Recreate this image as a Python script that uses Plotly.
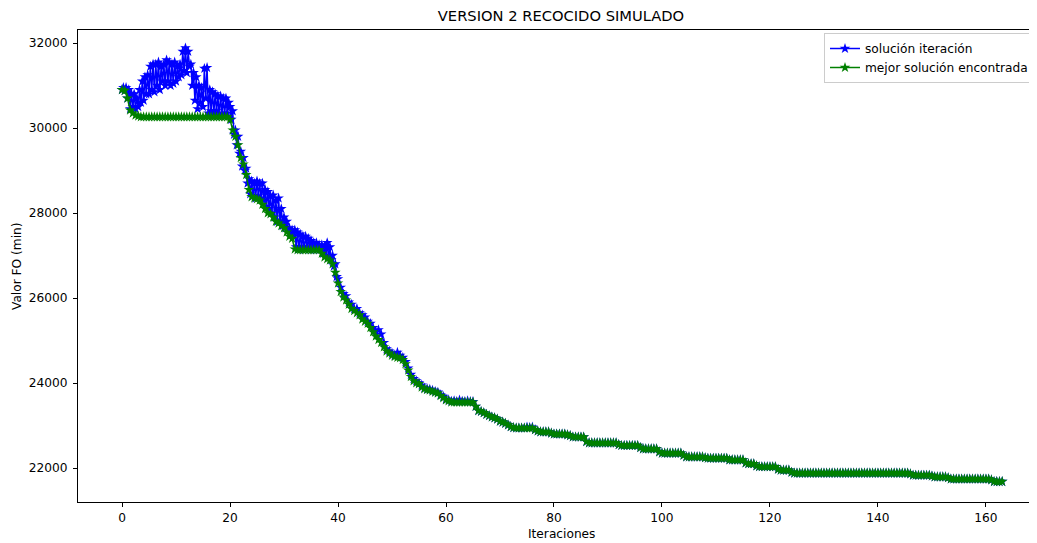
import plotly.graph_objects as go

# best solution: iterations 0 .. 163 in steps of 0.5
iteraciones = [i * 0.5 for i in range(327)]

mejor_solucion = [
    30900, 30880, 30700, 30420, 30350, 30300, 30280, 30260, 30260, 30260,  # 0
    30260, 30260, 30260, 30260, 30260, 30260, 30260, 30260, 30260, 30260,  # 5
    30260, 30260, 30260, 30260, 30260, 30260, 30260, 30260, 30260, 30260,  # 10
    30260, 30260, 30260, 30260, 30260, 30260, 30260, 30260, 30260, 30260,  # 15
    30200, 29950, 29800, 29600, 29300, 29150, 28900, 28550, 28380, 28350,  # 20
    28330, 28300, 28200, 28100, 28000, 27980, 27900, 27800, 27760, 27700,  # 25
    27650, 27550, 27450, 27400, 27150, 27130, 27130, 27130, 27130, 27130,  # 30
    27130, 27130, 27130, 27130, 27050, 26960, 26920, 26890, 26800, 26600,  # 35
    26350, 26150, 26020, 25950, 25850, 25750, 25700, 25650, 25600, 25500,  # 40
    25450, 25400, 25300, 25200, 25100, 25020, 24950, 24850, 24750, 24700,  # 45
    24650, 24620, 24600, 24590, 24550, 24450, 24300, 24150, 24050, 24000,  # 50
    23980, 23900, 23860, 23840, 23830, 23800, 23780, 23760, 23700, 23650,  # 55
    23600, 23580, 23550, 23550, 23550, 23550, 23550, 23550, 23550, 23550,  # 60
    23550, 23450, 23350, 23330, 23300, 23260, 23230, 23200, 23180, 23150,  # 65
    23100, 23080, 23050, 23010, 22970, 22950, 22940, 22940, 22940, 22940,  # 70
    22940, 22940, 22940, 22900, 22870, 22850, 22850, 22850, 22850, 22820,  # 75
    22800, 22800, 22800, 22800, 22800, 22780, 22760, 22730, 22730, 22730,  # 80
    22730, 22730, 22620, 22590, 22590, 22590, 22590, 22590, 22590, 22590,  # 85
    22590, 22590, 22590, 22590, 22550, 22530, 22530, 22530, 22530, 22530,  # 90
    22530, 22530, 22480, 22450, 22450, 22450, 22450, 22450, 22450, 22380,  # 95
    22350, 22350, 22350, 22350, 22350, 22350, 22350, 22350, 22300, 22260,  # 100
    22260, 22260, 22260, 22260, 22260, 22260, 22240, 22230, 22230, 22230,  # 105
    22230, 22230, 22230, 22230, 22230, 22190, 22190, 22190, 22190, 22190,  # 110
    22190, 22120, 22100, 22100, 22100, 22050, 22030, 22030, 22030, 22030,  # 115
    22030, 22030, 22030, 21970, 21950, 21950, 21950, 21950, 21900, 21880,  # 120
    21880, 21880, 21880, 21880, 21880, 21880, 21880, 21880, 21880, 21880,  # 125
    21880, 21880, 21880, 21880, 21880, 21880, 21880, 21880, 21880, 21880,  # 130
    21880, 21880, 21880, 21880, 21880, 21880, 21880, 21880, 21880, 21880,  # 135
    21880, 21880, 21880, 21880, 21880, 21880, 21880, 21880, 21880, 21880,  # 140
    21880, 21880, 21860, 21830, 21830, 21830, 21830, 21830, 21830, 21830,  # 145
    21810, 21790, 21790, 21790, 21790, 21790, 21770, 21740, 21740, 21740,  # 150
    21740, 21740, 21740, 21740, 21740, 21740, 21740, 21740, 21740, 21740,  # 155
    21740, 21740, 21720, 21680, 21680, 21680, 21680,                       # 160
]

# current solution: steps of 0.25 for iterations 0..39.75, then 0.5 up to 163
iteraciones_actual = [i * 0.25 for i in range(160)] + [40 + i * 0.5 for i in range(247)]

solucion_iteracion = [
    30900, 30950, 30880, 30950,  30700, 30900, 30450, 30800,  # 0, 1
    30500, 30800, 30450, 30700,  30500, 30900, 30600, 31100,  # 2, 3
    30650, 31200, 30800, 31250,  30800, 31450, 30900, 31500,  # 4, 5
    30850, 31500, 31000, 31550,  30900, 31450, 31100, 31500,  # 6, 7
    31000, 31600, 31100, 31550,  31000, 31500, 31050, 31550,  # 8, 9
    31100, 31450, 31200, 31500,  31250, 31800, 31350, 31880,  # 10, 11
    31300, 31800, 31450, 31500,  31000, 31300, 30650, 31200,  # 12, 13
    30450, 31000, 30600, 30950,  30500, 31400, 30700, 31420,  # 14, 15
    30350, 30900, 30400, 30850,  30350, 30800, 30400, 30750,  # 16, 17
    30300, 30750, 30350, 30700,  30300, 30700, 30350, 30600,  # 18, 19
    30500, 30200, 30400, 29850,  29950, 29600, 29800, 29400,  # 20, 21
    29450, 29100, 29300, 29000,  29050, 28700, 28800, 28450,  # 22, 23
    28750, 28400, 28700, 28350,  28750, 28400, 28700, 28350,  # 24, 25
    28700, 28300, 28550, 28150,  28500, 28100, 28400, 28000,  # 26, 27
    28420, 27900, 28300, 27800,  28350, 27800, 28100, 27700,  # 28, 29
    27900, 27650, 27800, 27600,  27650, 27500, 27600, 27450,  # 30, 31
    27600, 27200, 27550, 27150,  27500, 27200, 27450, 27150,  # 32, 33
    27450, 27200, 27400, 27150,  27350, 27150, 27300, 27150,  # 34, 35
    27300, 27150, 27250, 27150,  27250, 27050, 27200, 27000,  # 36, 37
    27300, 26950, 27200, 26900,  27000, 26750, 26800, 26500,  # 38, 39
    26450, 26250, 26100, 26050, 25900, 25850, 25750, 25750, 25650, 25600,  # 40
    25550, 25450, 25400, 25300, 25200, 25250, 25150, 24950, 24800, 24750,  # 45
    24700, 24650, 24720, 24650, 24600, 24500, 24350, 24200, 24100, 24050,  # 50
    24000, 23950, 23880, 23860, 23850, 23830, 23800, 23780, 23720, 23680,  # 55
    23620, 23600, 23570, 23580, 23560, 23600, 23570, 23560, 23580, 23560,  # 60
    23560, 23450, 23350, 23330, 23300, 23260, 23230, 23200, 23180, 23150,  # 65
    23100, 23080, 23050, 23010, 22970, 22950, 22940, 22940, 22940, 22940,  # 70
    22960, 22950, 22960, 22900, 22870, 22850, 22850, 22850, 22850, 22820,  # 75
    22800, 22800, 22800, 22800, 22800, 22780, 22760, 22730, 22730, 22730,  # 80
    22730, 22730, 22620, 22590, 22590, 22590, 22590, 22590, 22590, 22590,  # 85
    22590, 22590, 22590, 22590, 22550, 22530, 22530, 22530, 22530, 22530,  # 90
    22530, 22530, 22480, 22450, 22450, 22450, 22450, 22450, 22450, 22380,  # 95
    22350, 22350, 22350, 22350, 22350, 22350, 22350, 22350, 22300, 22260,  # 100
    22260, 22260, 22260, 22260, 22260, 22260, 22240, 22230, 22230, 22230,  # 105
    22230, 22230, 22230, 22230, 22230, 22190, 22190, 22190, 22190, 22190,  # 110
    22190, 22120, 22100, 22100, 22100, 22050, 22030, 22030, 22030, 22030,  # 115
    22030, 22030, 22030, 21970, 21950, 21950, 21950, 21950, 21900, 21880,  # 120
    21880, 21880, 21880, 21880, 21880, 21880, 21880, 21880, 21880, 21880,  # 125
    21880, 21880, 21880, 21880, 21880, 21880, 21880, 21880, 21880, 21880,  # 130
    21880, 21880, 21880, 21880, 21880, 21880, 21880, 21880, 21880, 21880,  # 135
    21880, 21880, 21880, 21880, 21880, 21880, 21880, 21880, 21880, 21880,  # 140
    21880, 21880, 21860, 21830, 21830, 21830, 21830, 21830, 21830, 21830,  # 145
    21810, 21790, 21790, 21790, 21790, 21790, 21770, 21740, 21740, 21740,  # 150
    21740, 21740, 21740, 21740, 21740, 21740, 21740, 21740, 21740, 21740,  # 155
    21740, 21740, 21720, 21680, 21680, 21680, 21680,                       # 160
]

x_ticks = [0, 20, 40, 60, 80, 100, 120, 140, 160]
y_ticks = [22000, 24000, 26000, 28000, 30000, 32000]

titulo = "VERSION 2 RECOCIDO SIMULADO"
nombre_x = "Iteraciones"
nombre_y = "Valor FO (min)"
serie_1 = "solución iteración"
serie_2 = "mejor solución encontrada"

FONT = "DejaVu Sans"
W, H = 1037, 543
L, R, T, B = 70, 0, 22, 49   # page body adds 8px offset
PW, PH = W - L - R, H - T - B

fig = go.Figure()
fig.add_trace(go.Scatter(
    x=iteraciones_actual, y=solucion_iteracion, name=serie_1, mode="lines+markers",
    line=dict(color="#0000ff", width=1.5),
    marker=dict(symbol="star", size=8, color="#0000ff", line=dict(width=0)),
))
fig.add_trace(go.Scatter(
    x=iteraciones, y=mejor_solucion, name=serie_2, mode="lines+markers",
    line=dict(color="#008000", width=1.5),
    marker=dict(symbol="star", size=8, color="#008000", line=dict(width=0)),
))

axis_common = dict(
    showgrid=False, zeroline=False, showline=True, linecolor="black", linewidth=1,
    ticks="outside", ticklen=4, tickwidth=1, tickcolor="black",
    tickfont=dict(family=FONT, size=12.2, color="black"),
)
fig.update_xaxes(range=[-8.15, 170.93], tickvals=x_ticks, mirror=True, **axis_common)
fig.update_yaxes(range=[21200, 32306], tickvals=y_ticks, tickformat="d", mirror=False,
                 ticklabelstandoff=3, **axis_common)

fig.update_layout(
    width=W, height=H,
    margin=dict(l=L, r=R, t=T, b=B, autoexpand=False),
    plot_bgcolor="white", paper_bgcolor="white",
    showlegend=True,
    legend=dict(
        x=(816 - L) / PW, y=1 - 3 / PH, xanchor="left", yanchor="top",
        bgcolor="rgba(255,255,255,0.8)", bordercolor="#cccccc", borderwidth=1,
        font=dict(family=FONT, size=12.2, color="black"),
        tracegroupgap=0, itemwidth=30,
    ),
    title=dict(text=titulo, x=553 / W, xref="container", xanchor="center",
               y=1 - 8 / H, yref="container", yanchor="middle",
               font=dict(family=FONT, size=14.7, color="black")),
    annotations=[
        dict(text=nombre_x, xref="paper", yref="paper", x=(553 - L) / PW,
             y=-(526 - (H - B)) / PH, xanchor="center", yanchor="middle",
             showarrow=False, font=dict(family=FONT, size=12.2, color="black")),
        dict(text=nombre_y, xref="paper", yref="paper", x=-(L - 9) / PW,
             y=0.5, xanchor="center", yanchor="middle", textangle=-90,
             showarrow=False, font=dict(family=FONT, size=12.2, color="black")),
    ],
)

fig.write_html("out.html")
